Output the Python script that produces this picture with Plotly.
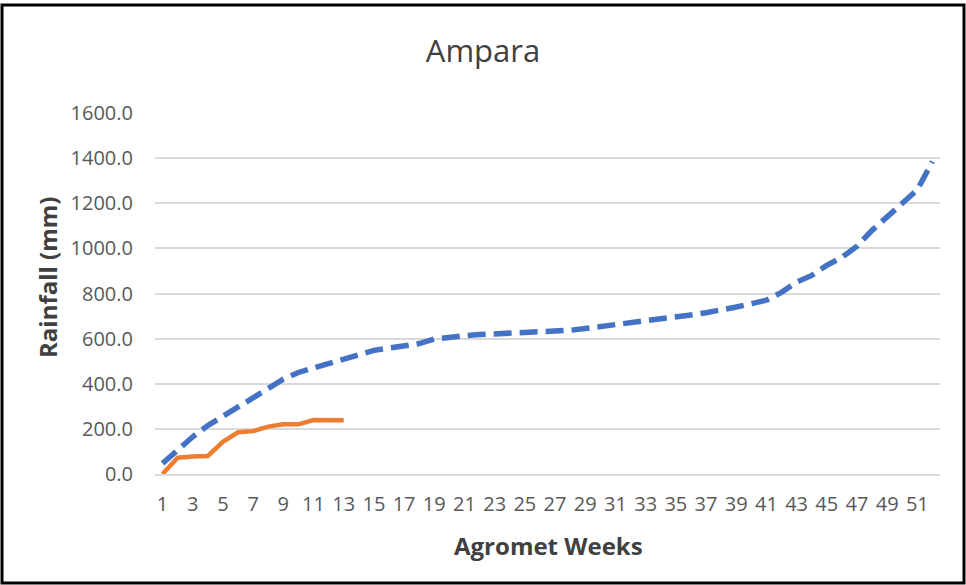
import plotly.graph_objects as go

# Agromet weeks and cumulative rainfall (mm) for Ampara
weeks = list(range(1, 53))
normal_cum = [47, 110, 165, 215, 255, 300, 335, 375, 420, 450,
              470, 490, 510, 530, 548, 558, 568, 578, 598, 608,
              613, 618, 621, 624, 626, 628, 632, 637, 645, 653,
              660, 667, 675, 685, 695, 705, 715, 725, 740, 755,
              770, 805, 850, 880, 925, 960, 1010, 1080, 1140, 1200,
              1260, 1385]
actual_weeks = list(range(1, 14))
actual_cum = [0, 72, 78, 80, 143, 185, 190, 210, 220, 220, 239, 239, 238]

x_ticks = list(range(1, 53, 2))
y_ticks = [0, 200, 400, 600, 800, 1000, 1200, 1400, 1600]
y_labels = [f"{v:.1f}" for v in y_ticks]

fig = go.Figure()

fig.add_trace(go.Scatter(
    x=weeks, y=normal_cum, mode="lines", name="Normal",
    line=dict(color="#4472C4", width=5.5, dash="18px,8px"),
))
fig.add_trace(go.Scatter(
    x=actual_weeks, y=actual_cum, mode="lines", name="Actual",
    line=dict(color="#ED7D31", width=4.5),
))

# plot area: left 155, right 940, top 113, bottom 474
L, R, T, B = 155, 26, 113, 111
W, H = 966 - L - R, 585 - T - B

fig.update_layout(
    width=966, height=585,
    margin=dict(l=L, r=R, t=T, b=B),
    paper_bgcolor="white", plot_bgcolor="white",
    showlegend=False,
    font=dict(family="Open Sans", color="#595959"),
    title=dict(text="Ampara", x=0.5, xanchor="center", y=1 - 51 / 585, yanchor="middle",
               font=dict(size=31, color="#404040")),
    xaxis=dict(
        range=[0.5, 52.5], tickvals=x_ticks, ticktext=[str(v) for v in x_ticks],
        showgrid=False, showline=True, linecolor="#D9D9D9", linewidth=1.5,
        ticks="", ticklabelstandoff=11, tickfont=dict(size=20, color="#595959"),
        zeroline=False,
    ),
    yaxis=dict(
        range=[0, 1600], tickvals=y_ticks, ticktext=y_labels,
        showgrid=True, gridcolor="#D9D9D9", gridwidth=1.5,
        showline=False, zeroline=False, ticks="",
        ticklabelstandoff=21, tickfont=dict(size=20, color="#595959"),
    ),
    annotations=[
        dict(text="<b>Agromet Weeks</b>", xref="paper", yref="paper",
             x=(548 - L) / W, y=(474 - 545) / H, showarrow=False,
             xanchor="center", yanchor="middle",
             font=dict(size=24, color="#404040")),
        dict(text="<b>Rainfall (mm)</b>", xref="paper", yref="paper",
             x=(47 - L) / W, y=(474 - 277) / H, showarrow=False, textangle=-90,
             xanchor="center", yanchor="middle",
             font=dict(size=24, color="#404040")),
    ],
    shapes=[
        dict(type="rect", xref="paper", yref="paper",
             x0=(2 - L) / W, x1=(964 - L) / W, y0=(474 - 583) / H, y1=(474 - 5) / H,
             line=dict(color="black", width=3), fillcolor="rgba(0,0,0,0)", layer="above"),
    ],
)

# drop the browser's default page margin so the figure sits at the window corner
fig.write_html("out.html", config={"displayModeBar": False},
               post_script="document.body.style.margin='0';")
